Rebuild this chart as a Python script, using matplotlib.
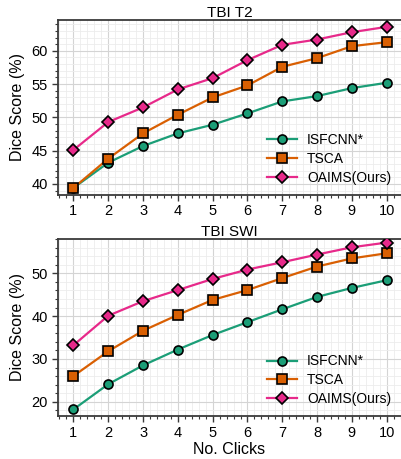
import matplotlib
matplotlib.use('Agg')
import matplotlib.pyplot as plt
from matplotlib.ticker import AutoMinorLocator, MultipleLocator

plt.rcParams['font.family'] = ['Liberation Sans', 'DejaVu Sans']

clicks = [1, 2, 3, 4, 5, 6, 7, 8, 9, 10]
labels = ['ISFCNN*', 'TSCA', 'OAIMS(Ours)']

# TBI T2
t2_isfcnn = [39.4, 43.2, 45.7, 47.6, 48.9, 50.6, 52.4, 53.2, 54.4, 55.2]
t2_tsca = [39.4, 43.8, 47.6, 50.4, 53.0, 54.8, 57.6, 58.9, 60.7, 61.3]
t2_oaims = [45.1, 49.3, 51.5, 54.2, 55.9, 58.6, 60.9, 61.7, 62.8, 63.6]

# TBI SWI
swi_isfcnn = [18.2, 24.1, 28.5, 32.2, 35.6, 38.6, 41.6, 44.5, 46.6, 48.4]
swi_tsca = [26.0, 31.8, 36.6, 40.3, 43.8, 46.1, 48.9, 51.6, 53.5, 54.7]
swi_oaims = [33.2, 40.1, 43.5, 46.1, 48.7, 50.9, 52.6, 54.4, 56.1, 57.2]

colors = ['#1b9e77', '#d95f02', '#e7298a']
markers = ['o', 's', 'D']

fig = plt.figure(figsize=(4.01, 4.59), dpi=100)
ax1 = fig.add_axes([0.144, 0.576, 0.856, 0.380])
ax2 = fig.add_axes([0.144, 0.094, 0.856, 0.385])


def draw(ax, series, title, ylim, ystep):
    for vals, c, m, lab in zip(series, colors, markers, labels):
        ax.plot(clicks, vals, color=c, marker=m, markersize=6.5,
                markeredgecolor='black', markeredgewidth=1.2,
                linewidth=1.6, label=lab, zorder=3)
    ax.set_xlim(0.55, 10.41)
    ax.set_ylim(*ylim)
    ax.set_xticks(clicks)
    ax.yaxis.set_major_locator(MultipleLocator(ystep))
    ax.xaxis.set_minor_locator(AutoMinorLocator(5))
    ax.yaxis.set_minor_locator(AutoMinorLocator(5))
    ax.grid(which='major', color='#d4d4d4', linewidth=0.8)
    ax.grid(which='minor', color='#ececec', linewidth=0.6)
    ax.set_axisbelow(True)
    ax.spines['right'].set_visible(False)
    for s in ['top', 'left', 'bottom']:
        ax.spines[s].set_color('#3a3a3a')
        ax.spines[s].set_linewidth(1.3)
    ax.tick_params(which='major', length=4, width=1.0, labelsize=10.5,
                   color='#3a3a3a', pad=3)
    ax.tick_params(which='minor', length=2.5, width=0.8, color='#3a3a3a')
    ax.set_title(title, fontsize=11, pad=2)
    ax.set_ylabel('Dice Score (%)', fontsize=11.5, labelpad=5)
    ax.legend(loc='lower right', frameon=False, fontsize=10,
              labelspacing=0.35, handlelength=2.2, handletextpad=0.7,
              borderaxespad=0.3)


draw(ax1, [t2_isfcnn, t2_tsca, t2_oaims], 'TBI T2', (38.4, 64.6), 5)
draw(ax2, [swi_isfcnn, swi_tsca, swi_oaims], 'TBI SWI', (16.7, 58.0), 10)
ax2.set_xlabel('No. Clicks', fontsize=11.5, labelpad=2)

fig.savefig('out.png', dpi=100)
